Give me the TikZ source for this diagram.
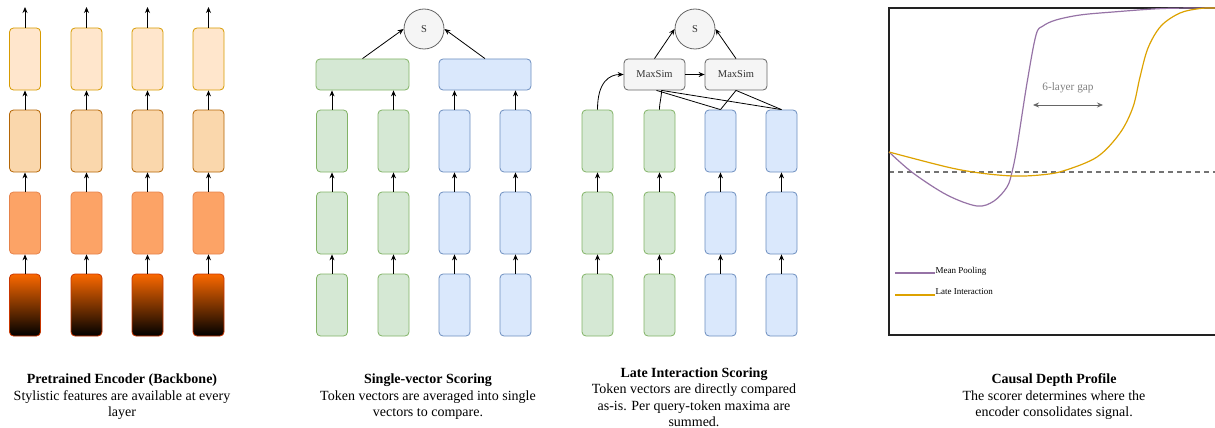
\documentclass[tikz,border=0pt]{standalone}
\usepackage{fontspec}
\setmainfont{Liberation Serif}
\usetikzlibrary{arrows.meta,calc}
\definecolor{eAf}{HTML}{FFE6CC}\definecolor{eAd}{HTML}{D79B00}
\definecolor{eBf}{HTML}{FAD7AC}\definecolor{eBd}{HTML}{B46504}
\definecolor{eCf}{HTML}{FCA366}\definecolor{eCd}{HTML}{E6824A}
\definecolor{eDt}{HTML}{FA6800}\definecolor{eDd}{HTML}{C73500}
\definecolor{qf}{HTML}{D5E8D4}\definecolor{qd}{HTML}{82B366}
\definecolor{df}{HTML}{DAE8FC}\definecolor{dd}{HTML}{6C8EBF}
\definecolor{gf}{HTML}{F5F5F5}\definecolor{gd}{HTML}{666666}
\definecolor{mp}{HTML}{9673A6}\definecolor{li}{HTML}{DDA200}
\definecolor{framecol}{HTML}{222222}
\tikzset{
  layerbox/.style={rectangle, rounded corners=4pt, minimum width=31pt, minimum height=62pt, inner sep=0pt, line width=0.8pt},
  encA/.style={layerbox, fill=eAf, draw=eAd},
  encB/.style={layerbox, fill=eBf, draw=eBd},
  encC/.style={layerbox, fill=eCf, draw=eCd},
  encD/.style={layerbox, top color=eDt, bottom color=black, draw=eDd},
  qbox/.style={layerbox, fill=qf, draw=qd},
  dbox/.style={layerbox, fill=df, draw=dd},
  widebox/.style={rectangle, rounded corners=4pt, minimum height=31pt, inner sep=0pt, line width=0.8pt},
  simbox/.style={widebox, fill=gf, draw=gd, minimum width=61pt, font=\fontsize{10.5}{12}\selectfont, text=black!80},
  scorenode/.style={circle, fill=gf, draw=gd, minimum size=40pt, inner sep=0pt, line width=0.8pt, font=\fontsize{10.5}{12}\selectfont, text=black!80},
  arr/.style={-{Stealth[length=6pt,width=5pt]}, line width=0.8pt, draw=black},
  linkline/.style={line width=0.8pt, draw=black},
  captext/.style={align=center, font=\fontsize{14}{16.5}\selectfont, inner sep=0pt},
  chartline/.style={line width=1.2pt},
}
\begin{document}
\begin{tikzpicture}[x=1pt,y=-1pt]
\useasboundingbox (0,0) rectangle (1215,428);

% ---------- Encoder ----------
\foreach \x [count=\i] in {25,86.5,147.5,208.5} {
  \node[encA] (ea\i) at (\x,59) {};
  \node[encB] (eb\i) at (\x,141) {};
  \node[encC] (ec\i) at (\x,223) {};
  \node[encD] (ed\i) at (\x,305) {};
  \coordinate (et\i) at (\x,7);
  \draw[arr] (ed\i) -- (ec\i);
  \draw[arr] (ec\i) -- (eb\i);
  \draw[arr] (eb\i) -- (ea\i);
  \draw[arr] (ea\i) -- (et\i);
}

% ---------- Single-vector ----------
\node[widebox, fill=qf, draw=qd, minimum width=93pt] (qpool) at (362.5,74.5) {};
\node[widebox, fill=df, draw=dd, minimum width=92pt] (dpool) at (485,74.5) {};
\node[scorenode] (S1) at (424,29) {S};
\foreach \x [count=\i] in {332,393.5} {
  \node[qbox] (sqb\i) at (\x,141) {};
  \node[qbox] (sqc\i) at (\x,223) {};
  \node[qbox] (sqd\i) at (\x,305) {};
  \draw[arr] (sqd\i) -- (sqc\i);
  \draw[arr] (sqc\i) -- (sqb\i);
  \draw[arr] (sqb\i.north) -- (qpool.south -| sqb\i.north);
}
\foreach \x [count=\i] in {454.5,515.5} {
  \node[dbox] (sdb\i) at (\x,141) {};
  \node[dbox] (sdc\i) at (\x,223) {};
  \node[dbox] (sdd\i) at (\x,305) {};
  \draw[arr] (sdd\i) -- (sdc\i);
  \draw[arr] (sdc\i) -- (sdb\i);
  \draw[arr] (sdb\i.north) -- (dpool.south -| sdb\i.north);
}
\draw[arr] (qpool.north) -- (S1.west);
\draw[arr] (dpool.north) -- (S1.east);

% ---------- Late interaction ----------
\node[scorenode] (S2) at (695,29) {S};
\node[simbox] (M1) at (654.5,74.5) {MaxSim};
\node[simbox, minimum width=62pt] (M2) at (736,74.5) {MaxSim};
\foreach \x [count=\i] in {597.5,659.5} {
  \node[qbox] (lqb\i) at (\x,141) {};
  \node[qbox] (lqc\i) at (\x,223) {};
  \node[qbox] (lqd\i) at (\x,305) {};
  \draw[arr] (lqd\i) -- (lqc\i);
  \draw[arr] (lqc\i) -- (lqb\i);
}
\foreach \x [count=\i] in {720.5,781.5} {
  \node[dbox] (ldb\i) at (\x,141) {};
  \node[dbox] (ldc\i) at (\x,223) {};
  \node[dbox] (ldd\i) at (\x,305) {};
  \draw[arr] (ldd\i) -- (ldc\i);
  \draw[arr] (ldc\i) -- (ldb\i);
}
\coordinate (m1a) at ($(M1.south)+(2,0)$);
\coordinate (m1b) at ($(M1.south)+(7,0)$);
\draw[arr] (M1.north) -- (S2.west);
\draw[arr] (M2.north) -- (S2.east);
\draw[arr] (M1) -- (M2);
\draw[arr] (lqb1.north) .. controls +(0,-28) and +(-14,0) .. (M1.west);
\draw[linkline] (lqb2.north) .. controls +(0,-8) and +(0,8) .. (m1b);
\draw[linkline] (m1a) -- (ldb1.north);
\draw[linkline] (m1b) -- (ldb2.north);
\draw[linkline] (M2.south) -- (ldb1.north);
\draw[linkline] (M2.south) -- (ldb2.north);

% ---------- Causal depth profile ----------
\draw[dashed, dash pattern=on 5pt off 4pt, line width=1.1pt, draw=black!55] (889,172) -- (1215,172);
\draw[line width=1.3pt, draw=framecol] (1216,8) -- (889,8) -- (889,335) -- (1216,335);
\draw[chartline, draw=mp] plot[smooth, tension=0.55] coordinates {
  (889,152) (913,173) (947,195) (977,206) (994,201) (1007,187) (1012,172)
  (1017,147) (1027,83) (1036,35) (1043,26) (1056,20) (1080,15) (1113,12) (1163,8.5) (1215,8)};
\draw[chartline, draw=li] plot[smooth, tension=0.55] coordinates {
  (889,152) (947,167) (980,173) (1013,176) (1040,175) (1063,171) (1097,157)
  (1120,133) (1133,107) (1140,77) (1148,48) (1161,26) (1180,13) (1200,8.5) (1215,8)};
\node[font=\fontsize{11.3}{13}\selectfont, text=black!50, inner sep=0pt] (gap) at (1068,88) {6-layer gap};
\coordinate (gapL) at (1033,105);
\coordinate (gapR) at (1103,105);
\draw[{Stealth[length=6pt,width=5pt]}-{Stealth[length=6pt,width=5pt]}, line width=0.8pt, draw=black!60] (gapL) -- (gapR);
\coordinate (lg1a) at (895,273); \coordinate (lg1b) at (935,273);
\coordinate (lg2a) at (895,295); \coordinate (lg2b) at (935,295);
\draw[chartline, draw=mp] (lg1a) -- (lg1b);
\draw[chartline, draw=li] (lg2a) -- (lg2b);
\node[anchor=west, font=\fontsize{9}{10}\selectfont, inner sep=0pt] (lt1) at (935.5,271) {Mean Pooling};
\node[anchor=west, font=\fontsize{9}{10}\selectfont, inner sep=0pt] (lt2) at (935.5,292) {Late Interaction};

% ---------- Captions ----------
\node[captext] (c1) at (122,397) {\textbf{Pretrained Encoder (Backbone)}\\Stylistic features are available at every\\layer};
\node[captext] (c2) at (428,397) {\textbf{Single-vector Scoring}\\Token vectors are averaged into single\\vectors to compare.};
\node[captext] (c3) at (694,397) {\textbf{Late Interaction Scoring}\\Token vectors are directly compared\\as-is. Per query-token maxima are\\summed.};
\node[captext] (c4) at (1054,397) {\textbf{Causal Depth Profile}\\The scorer determines where the\\encoder consolidates signal.};
\end{tikzpicture}
\end{document}
